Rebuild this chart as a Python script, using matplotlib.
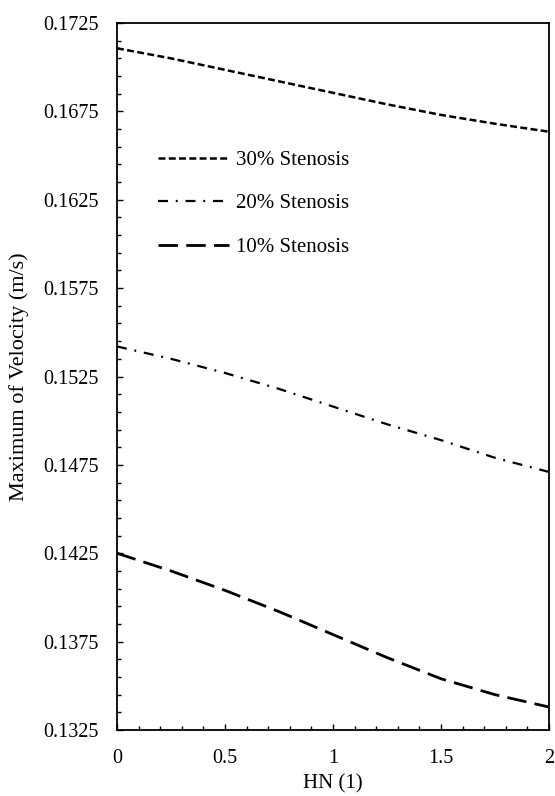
import numpy as np
import matplotlib
matplotlib.use("Agg")
from matplotlib import pyplot as plt
from matplotlib.ticker import AutoMinorLocator, FuncFormatter

# data
hn = [0.0, 0.25, 0.5, 0.75, 1.0, 1.25, 1.5, 1.75, 2.0]
v_30 = [0.17107, 0.1705, 0.16985, 0.1692, 0.16855, 0.1679, 0.1673, 0.1668, 0.16635]
v_20 = [0.1542, 0.1535, 0.1527, 0.1518, 0.1508, 0.1498, 0.1489, 0.1479, 0.1471]
v_10 = [0.1425, 0.1415, 0.1404, 0.1392, 0.1379, 0.1366, 0.1354, 0.1345, 0.1338]
labels = ["30% Stenosis", "20% Stenosis", "10% Stenosis"]
y_ticks = [0.1325, 0.1375, 0.1425, 0.1475, 0.1525, 0.1575, 0.1625, 0.1675, 0.1725]
x_ticks = [0, 0.5, 1, 1.5, 2]

plt.rcParams['font.family'] = ['Liberation Serif', 'DejaVu Serif']
plt.rcParams['lines.scale_dashes'] = False

fig = plt.figure(figsize=(5.55, 7.96), dpi=100)
ax = fig.add_axes([0.2108, 0.0829, 0.7784, 0.8882])

ax.plot(hn, v_30, color='black', lw=1.8, linestyle=(0, (5, 2.4)), label=labels[0])
ax.plot(hn, v_20, color='black', lw=1.6, linestyle=(0, (7.2, 5.6, 1.4, 5.6)), label=labels[1])
ax.plot(hn, v_10, color='black', lw=2.0, linestyle=(0, (14, 6)), label=labels[2])

ax.set_xlim(0, 2)
ax.set_ylim(0.1325, 0.1725)
ax.set_yticks(y_ticks)
ax.set_xticks(x_ticks)
ax.yaxis.set_major_formatter(FuncFormatter(lambda v, p: '{:.4f}'.format(v)))
ax.xaxis.set_major_formatter(FuncFormatter(lambda v, p: '{:g}'.format(v)))
ax.xaxis.set_minor_locator(AutoMinorLocator(5))
ax.yaxis.set_minor_locator(AutoMinorLocator(5))

ax.tick_params(which='both', direction='in', top=False, right=False, width=1.0, labelsize=14.5)
ax.tick_params(which='major', length=4.3)
ax.tick_params(which='minor', length=2.9)
ax.tick_params(axis='y', pad=13)
ax.tick_params(axis='x', pad=14)
for s in ax.spines.values():
    s.set_linewidth(1.3)

ax.set_xlabel('HN (1)', fontsize=15)
ax.set_ylabel('Maximum of Velocity (m/s)', fontsize=16)
ax.xaxis.set_label_coords(0.5, -0.063)
ax.yaxis.set_label_coords(-0.204, 0.5)

ax.legend(loc='upper left', bbox_to_anchor=(0.095, 0.82), frameon=False,
          fontsize=15, handlelength=3.4, handletextpad=0.35, labelspacing=1.15,
          borderpad=0, borderaxespad=0)

fig.savefig('out.png', dpi=100)
